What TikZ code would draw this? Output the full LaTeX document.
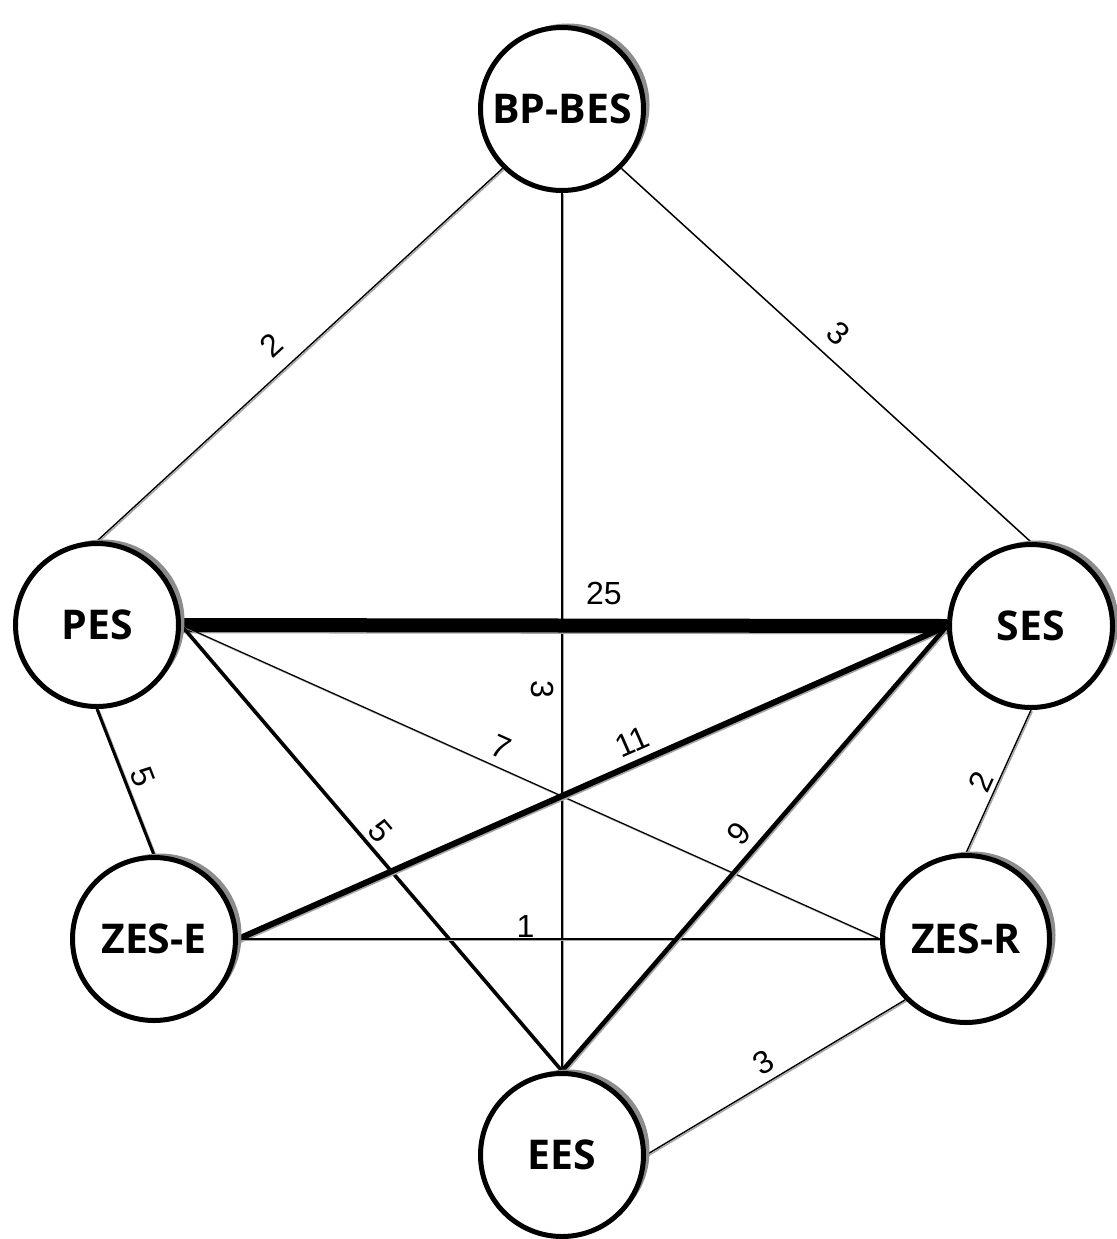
\documentclass[tikz,border=0pt]{standalone}
\usepackage{fontspec}
\setmainfont{Liberation Sans}
\newfontfamily\nodefont{Open Sans}
\usetikzlibrary{shadows,backgrounds}
\begin{document}
\begin{tikzpicture}[x=1pt,y=-1pt,
  es/.style={circle, draw=black, line width=5pt, fill=white, minimum size=#1, inner sep=0pt,
    font=\nodefont\bfseries\fontsize{41}{41}\selectfont,
    drop shadow={shadow xshift=6pt, shadow yshift=4pt, fill=black!45, opacity=1}},
  es/.default=163pt,
  conn/.style={line width=#1, draw=black,
    preaction={draw=black!35, line width=#1, transform canvas={xshift=1.3pt, yshift=-1.3pt}}},
  conn/.default=1.4pt,
  lbl/.style={font=\fontsize{32}{32}\selectfont, inner sep=2pt, sloped, allow upside down}]
\useasboundingbox (0,0) rectangle (1116,1239);
\node[es] (BP) at (562,109) {BP-BES};
\node[es] (PES) at (97,625) {PES};
\node[es] (SES) at (1031,626) {SES};
\node[es] (ZESE) at (154,939) {ZES-E};
\node[es=167pt] (ZESR) at (966,939) {ZES-R};
\node[es] (EES) at (562,1155) {EES};
\begin{scope}[on background layer]
\fill[white] (0,0) rectangle (1116,1239);
\draw[conn] (PES.north) -- node[lbl, pos=0.474, above=12.5pt] {2} (BP.225);
\draw[conn] (BP.315) -- node[lbl, pos=0.49, above=10.5pt] {3} (SES.north);
\draw[conn] (BP.south) -- node[lbl, pos=0.565, below=5.5pt] {3} (EES.north);
\draw[conn=14pt] (PES.east) -- node[lbl, pos=0.552, above=11.5pt] {25} (SES.west);
\draw[conn=1.2pt] (PES.east) -- node[lbl, pos=0.446, above=6.5pt] {7} (ZESR.west);
\draw[conn=3.5pt] (PES.east) -- node[lbl, pos=0.489, above=3pt] {5} (EES.north);
\draw[conn=3pt] (PES.south) -- node[lbl, pos=0.509, above=3.5pt] {5} (ZESE.north);
\draw[conn=6pt] (ZESE.east) -- node[lbl, pos=0.568, above=5.5pt] {11} (SES.west);
\draw[conn=1.2pt] (ZESE.east) -- node[lbl, pos=0.448, above=-1pt] {1} (ZESR.west);
\draw[conn=4.5pt] (EES.north) -- node[lbl, pos=0.502, above=6.5pt] {9} (SES.west);
\draw[conn] (ZESR.north) -- node[lbl, pos=0.451, above=1.5pt] {2} (SES.south);
\draw[conn] (EES.east) -- node[lbl, pos=0.49, above=5.5pt] {3} (ZESR.225);
\end{scope}
\end{tikzpicture}
\end{document}
